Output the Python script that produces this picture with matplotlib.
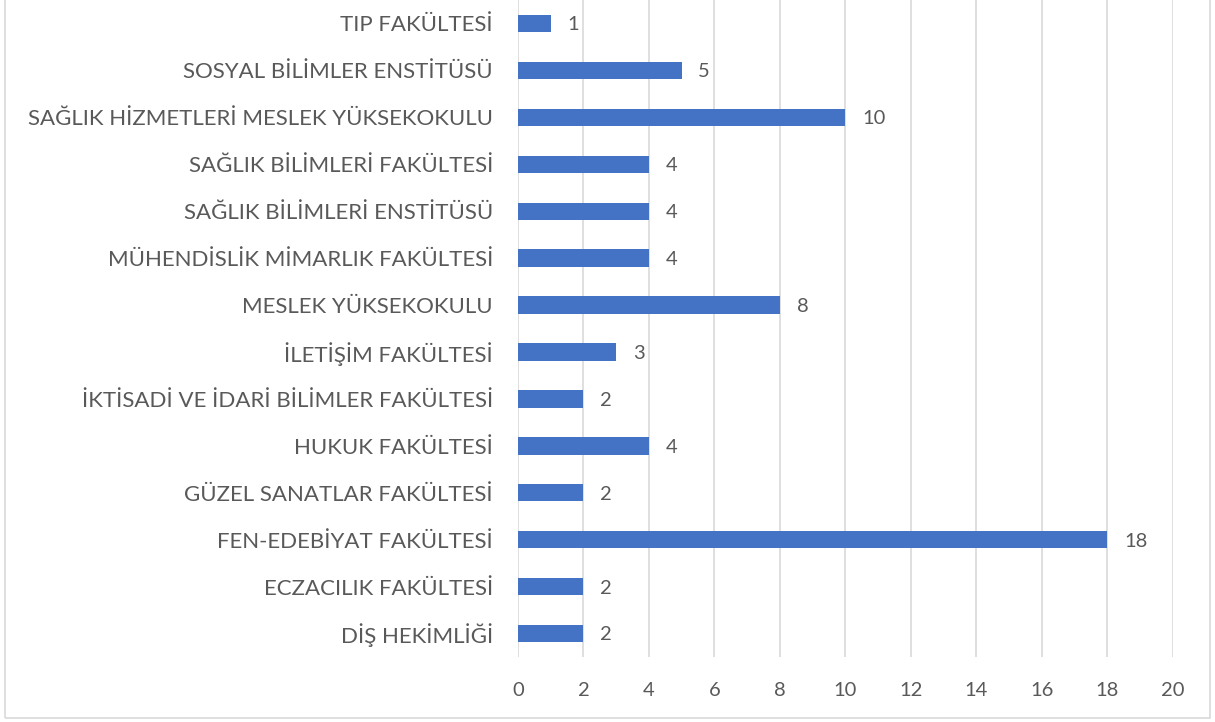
import matplotlib.pyplot as plt
from matplotlib.patches import Rectangle

plt.rcParams['font.family'] = ['Lato', 'DejaVu Sans']

categories = ['DİŞ HEKİMLİĞİ', 'ECZACILIK FAKÜLTESİ', 'FEN-EDEBİYAT FAKÜLTESİ',
              'GÜZEL SANATLAR FAKÜLTESİ', 'HUKUK FAKÜLTESİ',
              'İKTİSADİ VE İDARİ BİLİMLER FAKÜLTESİ', 'İLETİŞİM FAKÜLTESİ',
              'MESLEK YÜKSEKOKULU', 'MÜHENDİSLİK MİMARLIK FAKÜLTESİ',
              'SAĞLIK BİLİMLERİ ENSTİTÜSÜ', 'SAĞLIK BİLİMLERİ FAKÜLTESİ',
              'SAĞLIK HİZMETLERİ MESLEK YÜKSEKOKULU', 'SOSYAL BİLİMLER ENSTİTÜSÜ',
              'TIP FAKÜLTESİ']
values = [2, 2, 18, 2, 4, 2, 3, 8, 4, 4, 4, 10, 5, 1]
xticks = list(range(0, 21, 2))

text_color = '#595959'

fig = plt.figure(figsize=(12.15, 7.22), dpi=100)
ax = fig.add_axes([0.4263, 0.09, 0.5391, 0.91])

ypos = list(range(len(categories)))
ax.barh(ypos, values, height=0.37, color='#4472C4', zorder=3)
for y, v in zip(ypos, values):
    ax.annotate(str(v), (v, y), xytext=(12, -1), textcoords='offset points',
                va='center', ha='left', fontsize=14.5, color=text_color)

ax.set_xlim(0, 20)
ax.set_ylim(-0.5, len(categories) - 0.5)
ax.set_xticks(xticks)
ax.set_yticks(ypos)
ax.set_yticklabels(categories, fontsize=16)
ax.grid(axis='x', color='#D9D9D9', linewidth=1.2, zorder=0)
for s in ax.spines.values():
    s.set_visible(False)
ax.tick_params(axis='both', length=0, colors=text_color)
ax.tick_params(axis='x', pad=18, labelsize=14.5)
ax.tick_params(axis='y', pad=18)

# chart border
fig.patches.append(Rectangle((5 / 1215, 4 / 722), 1205 / 1215, 1.0, transform=fig.transFigure,
                             fill=False, edgecolor='#D9D9D9', linewidth=1.2))

plt.savefig('out.png', dpi=100)
